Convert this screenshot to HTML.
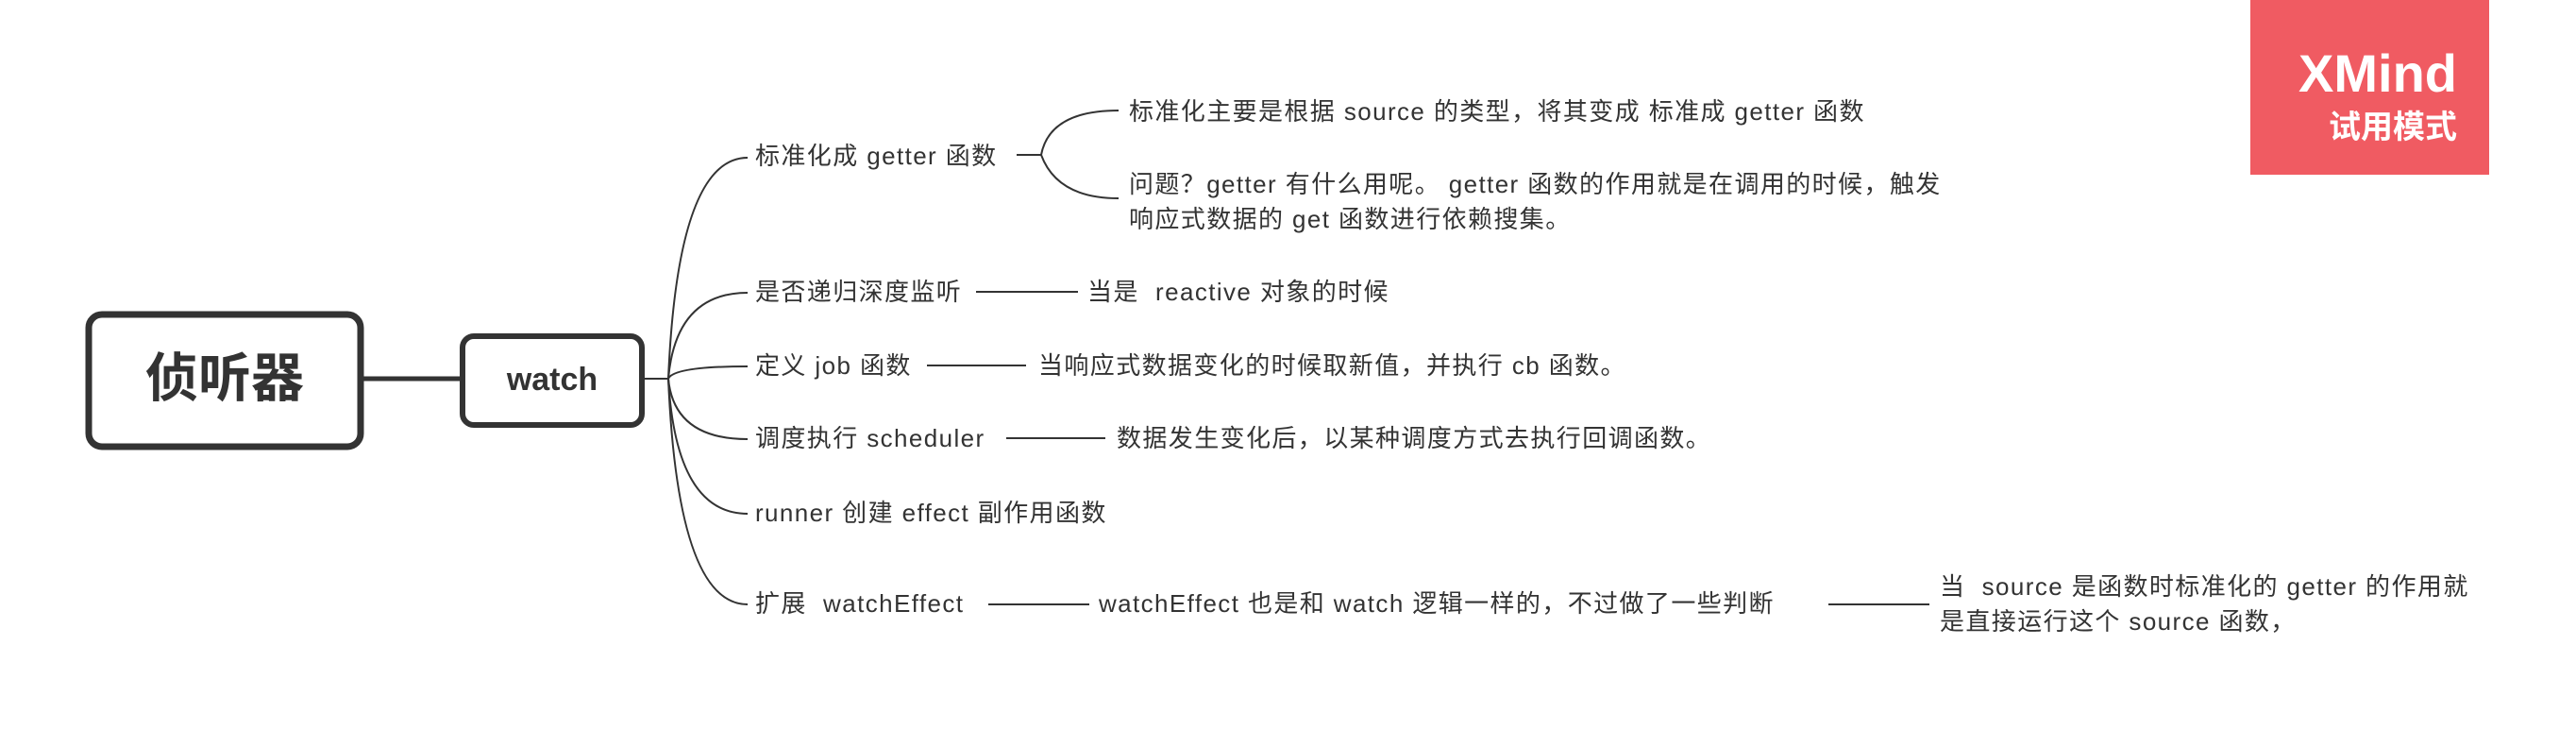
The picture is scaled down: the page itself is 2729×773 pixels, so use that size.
<!DOCTYPE html>
<html><head><meta charset="utf-8"><style>
html,body{margin:0;padding:0;background:#fff;}
svg{display:block;}
text{font-family:"Liberation Sans","Noto Sans CJK SC",sans-serif;fill:#333;}
.t text{letter-spacing:1.4px;}
</style></head><body>
<svg width="2729" height="773" viewBox="0 0 2729 773" xmlns="http://www.w3.org/2000/svg">
<rect x="94" y="333" width="288" height="140" rx="14" fill="#fff" stroke="#333" stroke-width="7"/>
<text x="238" y="420" font-size="56" font-weight="bold" text-anchor="middle" fill="#333">侦听器</text>
<line x1="385" y1="401" x2="487" y2="401" stroke="#333" stroke-width="5"/>
<rect x="490" y="356" width="190" height="94" rx="12" fill="#fff" stroke="#333" stroke-width="6"/>
<text x="585" y="413" font-size="34" font-weight="bold" text-anchor="middle" fill="#333">watch</text>
<line x1="683" y1="401" x2="708" y2="401" stroke="#333" stroke-width="2"/>
<g fill="none" stroke="#333" stroke-width="2">
<path d="M708 401 Q718 167 792 167"/>
<path d="M708 401 Q716 310 792 310"/>
<path d="M708 401 Q714 388 792 388"/>
<path d="M708 401 Q714 465 792 465"/>
<path d="M708 401 Q716 544 792 544"/>
<path d="M708 401 Q718 640 792 640"/>
<line x1="1077" y1="164" x2="1103" y2="164"/>
<path d="M1103 164 Q1112 117 1185 117"/>
<path d="M1103 164 Q1120 210 1185 210"/>
<line x1="1034" y1="309" x2="1142" y2="309"/>
<line x1="982" y1="387" x2="1087" y2="387"/>
<line x1="1066" y1="464" x2="1171" y2="464"/>
<line x1="1047" y1="640" x2="1154" y2="640"/>
<line x1="1937" y1="640" x2="2044" y2="640"/>
</g>
<g font-size="26" class="t">
<text x="800" y="174">标准化成 getter 函数</text>
<text x="800" y="318">是否递归深度监听</text>
<text x="800" y="396">定义 job 函数</text>
<text x="800" y="473">调度执行 scheduler</text>
<text x="800" y="552">runner 创建 effect 副作用函数</text>
<text x="800" y="648" xml:space="preserve">扩展  watchEffect</text>
<text x="1196" y="127">标准化主要是根据 source 的类型，将其变成 标准成 getter 函数</text>
<text x="1196" y="204">问题？getter 有什么用呢。 getter 函数的作用就是在调用的时候，触发</text>
<text x="1196" y="241">响应式数据的 get 函数进行依赖搜集。</text>
<text x="1152" y="318" xml:space="preserve">当是  reactive 对象的时候</text>
<text x="1100" y="396">当响应式数据变化的时候取新值，并执行 cb 函数。</text>
<text x="1183" y="473">数据发生变化后，以某种调度方式去执行回调函数。</text>
<text x="1164" y="648">watchEffect 也是和 watch 逻辑一样的，不过做了一些判断</text>
<text x="2055" y="630" xml:space="preserve">当  source 是函数时标准化的 getter 的作用就</text>
<text x="2055" y="667">是直接运行这个 source 函数，</text>
</g>
<rect x="2384" y="0" width="253" height="185" fill="#F05B62"/>
<text x="2603" y="97" font-size="56" font-weight="bold" text-anchor="end" style="fill:#fff">XMind</text>
<text x="2603" y="146" font-size="34" font-weight="bold" text-anchor="end" style="fill:#fff">试用模式</text>
</svg>
</body></html>
